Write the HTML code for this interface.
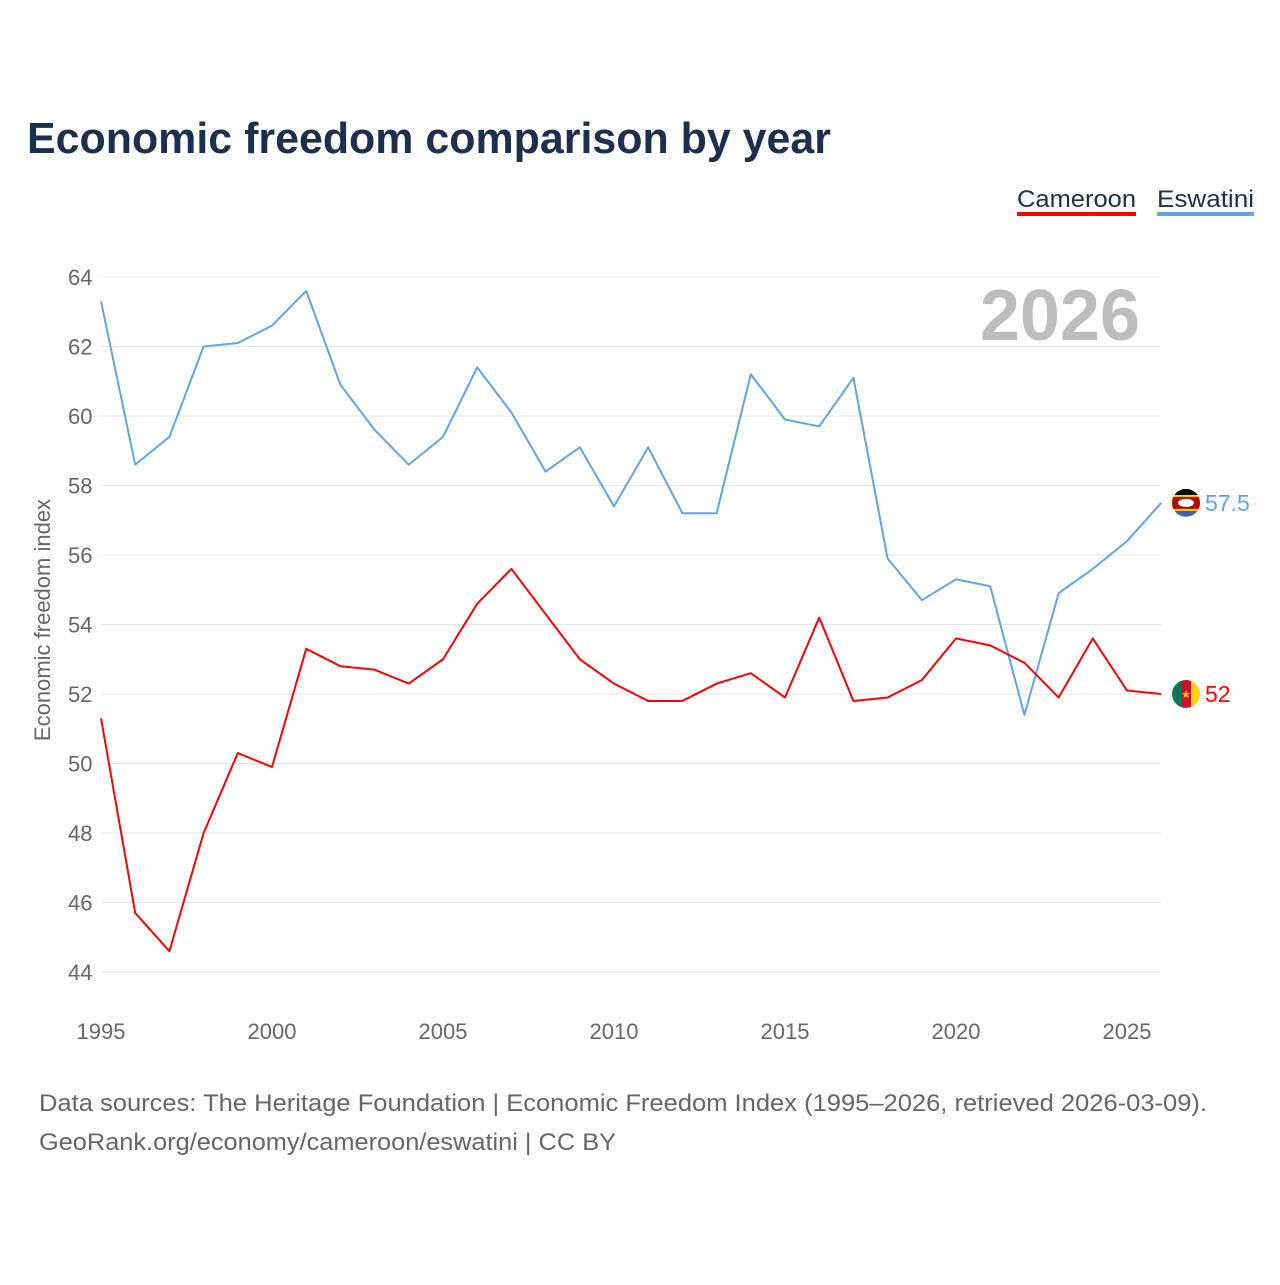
<!DOCTYPE html>
<html><head><meta charset="utf-8">
<style>
html,body{margin:0;padding:0;background:#fff;}
body{width:1280px;height:1280px;overflow:hidden;font-family:"Liberation Sans",sans-serif;}
</style></head>
<body>
<svg id="chart" width="1280" height="1280" xmlns="http://www.w3.org/2000/svg" font-family="Liberation Sans, sans-serif">
<text x="27" y="153" font-size="44" font-weight="bold" fill="#1b2f4f" textLength="804" lengthAdjust="spacingAndGlyphs">Economic freedom comparison by year</text>
<g>
<text x="1017" y="207" font-size="24" fill="#1b2f4f" textLength="119" lengthAdjust="spacingAndGlyphs">Cameroon</text>
<rect x="1017" y="212" width="119" height="4" fill="#ff0000"/>
</g>
<g>
<text x="1157" y="207" font-size="24" fill="#1b2f4f" textLength="97" lengthAdjust="spacingAndGlyphs">Eswatini</text>
<rect x="1157" y="212" width="97" height="4" fill="#5ea5e8"/>
</g>
<text x="1140" y="340" font-size="72" font-weight="bold" fill="#bdbdbd" text-anchor="end">2026</text>
<text transform="translate(50,620) rotate(-90)" font-size="22" fill="#666" text-anchor="middle">Economic freedom index</text>
<g id="grid"></g><g id="xt"></g><g id="lines"></g>
<text x="39" y="1111" font-size="24" fill="#666" textLength="1168" lengthAdjust="spacingAndGlyphs">Data sources: The Heritage Foundation | Economic Freedom Index (1995–2026, retrieved 2026-03-09).</text>
<text x="39" y="1150" font-size="24" fill="#666" textLength="577" lengthAdjust="spacingAndGlyphs">GeoRank.org/economy/cameroon/eswatini | CC BY</text>
</svg>
<script>
const years=[];for(let y=1995;y<=2026;y++)years.push(y);
const eswatini=[63.3,58.6,59.4,62.0,62.1,62.6,63.6,60.9,59.6,58.6,59.4,61.4,60.1,58.4,59.1,57.4,59.1,57.2,57.2,61.2,59.9,59.7,61.1,55.9,54.7,55.3,55.1,51.4,54.9,55.6,56.4,57.5];
const cameroon=[51.3,45.7,44.6,48.0,50.3,49.9,53.3,52.8,52.7,52.3,53.0,54.6,55.6,54.3,53.0,52.3,51.8,51.8,52.3,52.6,51.9,54.2,51.8,51.9,52.4,53.6,53.4,52.9,51.9,53.6,52.1,52.0];
const yTicks=[44,46,48,50,52,54,56,58,60,62,64];
const xTicks=[1995,2000,2005,2010,2015,2020,2025];
const NS="http://www.w3.org/2000/svg";
const X=y=>101+(y-1995)*(1127-101)/30;
const Y=v=>972-(v-44)*(972-277)/20;
function el(t,a,p){const e=document.createElementNS(NS,t);for(const k in a)e.setAttribute(k,a[k]);p.appendChild(e);return e;}
const grid=document.getElementById('grid');
yTicks.forEach(v=>{
 const l=el('line',{x1:101,x2:1161,y1:Y(v),y2:Y(v),stroke:'#e6e6e6','stroke-width':1},grid);
 
 
 const t=el('text',{x:68,y:Y(v)+8,'font-size':22,fill:'#666'},grid);t.textContent=v;
 
 
});
const xt=document.getElementById('xt');
xTicks.forEach(v=>{
 const t=el('text',{x:X(v),y:1039,'font-size':22,fill:'#666','text-anchor':'middle'},xt);t.textContent=v;
 
 
});
const lines=document.getElementById('lines');
function series(vals,color,name,label,flag){
 const p=el('polyline',{points:vals.map((v,i)=>X(years[i])+','+Y(v)).join(' '),fill:'none',stroke:color,'stroke-width':2,'stroke-linejoin':'round'},lines);
 
 
 const last=vals[vals.length-1],cy=Y(last),cx=1186;
 const g=el('g',{},lines);
 
 
 flag(g,cx,cy);
 const t=el('text',{x:1205,y:cy+8,'font-size':23,fill:color},lines);t.textContent=label;
 
 
}
series(eswatini,'#5ea5e8','eswatini','57.5',(g,cx,cy)=>{
 el('clipPath',{id:'ce'},g);const cp=g.lastChild;el('circle',{cx,cy,r:14},cp);
 const gg=el('g',{'clip-path':'url(#ce)'},g);
 el('rect',{x:cx-14,y:cy-14,width:28,height:28,fill:'#3e5eb9'},gg);
 el('rect',{x:cx-14,y:cy-8,width:28,height:16,fill:'#ffd900'},gg);
 el('rect',{x:cx-14,y:cy-6,width:28,height:12,fill:'#b10c0c'},gg);
 el('ellipse',{cx,cy,rx:8,ry:4,fill:'#fff'},gg);
 el('rect',{x:cx-14,y:cy-14,width:28,height:6,fill:'#000'},gg);
});
series(cameroon,'#ff0000','cameroon','52',(g,cx,cy)=>{
 el('clipPath',{id:'cc'},g);const cp=g.lastChild;el('circle',{cx,cy,r:14},cp);
 const gg=el('g',{'clip-path':'url(#cc)'},g);
 el('rect',{x:cx-14,y:cy-14,width:10,height:28,fill:'#007a5e'},gg);
 el('rect',{x:cx-5,y:cy-14,width:10,height:28,fill:'#ce1126'},gg);
 el('rect',{x:cx+5,y:cy-14,width:10,height:28,fill:'#fcd116'},gg);
 const s=el('text',{x:cx,y:cy+4,'font-size':11,fill:'#fcd116','text-anchor':'middle'},gg);s.textContent='★';
});
</script>
</body></html>
